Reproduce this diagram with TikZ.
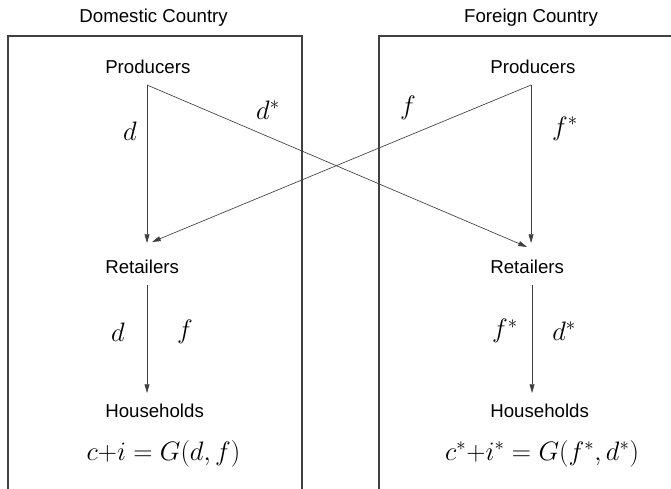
\RequirePackage{fix-cm}
\documentclass[tikz,border=0pt]{standalone}
\usepackage{fontspec}
\newfontfamily\arialfont{Liberation Sans}
\usetikzlibrary{arrows.meta}

\begin{document}
\begin{tikzpicture}[
    txt/.style={font=\arialfont\fontsize{14}{16}\selectfont, inner sep=0pt},
    lbl/.style={font=\fontsize{20}{24}\selectfont, inner sep=0pt},
    box/.style={draw=black!75, line width=0.9pt},
    flow/.style={draw=black!75, line width=0.5pt, -{Triangle[length=2.3mm,width=1.3mm]}},
  ]
    % Frame
    \useasboundingbox (0,0) rectangle (17.69,12.867);
    \clip (0,0) rectangle (17.69,12.867);

    % Country boxes
    \draw[box] (0.211,-1) rectangle (7.963,11.918);
    \draw[box] (9.993,-1) rectangle (18.5,11.918);

    % Headings
    \node[txt, anchor=base] (home) at (4.05,12.261) {Domestic Country};
    \node[txt, anchor=base] (abroad) at (14.0,12.261) {Foreign Country};

    % Sectors
    \node[txt, anchor=base west] (prodD) at (2.769,10.942) {Producers};
    \node[txt, anchor=base west] (prodF) at (12.92,10.942) {Producers};
    \node[txt, anchor=base west] (retD) at (2.769,5.669) {Retailers};
    \node[txt, anchor=base west] (retF) at (12.92,5.669) {Retailers};
    \node[txt, anchor=base west] (houseD) at (2.769,1.872) {Households};
    \node[txt, anchor=base west] (houseF) at (12.92,1.872) {Households};

    % Demand
    \node[lbl, anchor=base] (eqD) at (4.311,0.738) {$c{+}i = G(d,f)$};
    \node[lbl, anchor=base] (eqF) at (14.291,0.738) {$c^*{+}i^* = G(f^*,d^*)$};

    % Arrow ends
    \coordinate (pD) at (3.876,10.626);
    \coordinate (pF) at (14.001,10.626);
    \coordinate (rD) at (3.876,6.46);
    \coordinate (rF) at (14.001,6.46);
    \coordinate (xD) at (4.008,6.486);
    \coordinate (xF) at (13.895,6.355);
    \coordinate (sD) at (3.876,5.352);
    \coordinate (sF) at (14.027,5.352);
    \coordinate (hD) at (3.876,2.505);
    \coordinate (hF) at (14.027,2.505);

    % Goods flows
    \draw[flow] (pD) -- (rD);
    \draw[flow] (pD) -- (xF);
    \draw[flow] (pF) -- (rF);
    \draw[flow] (pF) -- (xD);
    \draw[flow] (sD) -- (hD);
    \draw[flow] (sF) -- (hF);

    % Flow labels
    \node[lbl] (dD) at (3.428,9.413) {$d$};
    \node[lbl] (dsD) at (7.066,9.967) {$d^*$};
    \node[lbl] (fF) at (10.758,10.019) {$f$};
    \node[lbl] (fsF) at (14.897,9.466) {$f^*$};
    \node[lbl] (dH) at (3.111,4.113) {$d$};
    \node[lbl] (fH) at (4.878,4.113) {$f$};
    \node[lbl] (fsH) at (13.315,4.140) {$f^*$};
    \node[lbl] (dsH) at (14.871,4.140) {$d^*$};
\end{tikzpicture}
\end{document}
